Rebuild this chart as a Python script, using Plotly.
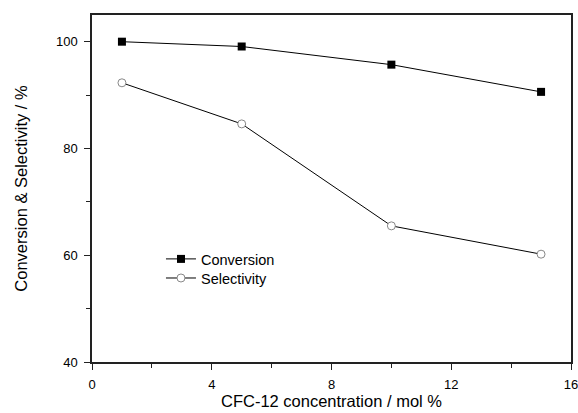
import plotly.graph_objects as go

x_vals = [1, 5, 10, 15]
conversion = [100.0, 99.1, 95.7, 90.6]
selectivity = [92.3, 84.6, 65.5, 60.2]
x_ticks = [0, 4, 8, 12, 16]
y_ticks = [40, 60, 80, 100]

font_family = "Liberation Sans, Arial, sans-serif"

fig = go.Figure()
fig.add_trace(go.Scatter(
    x=x_vals, y=conversion, mode="lines+markers", name="Conversion",
    line=dict(color="black", width=1),
    marker=dict(symbol="square", size=8, color="black"),
    legend="legend",
))
fig.add_trace(go.Scatter(
    x=x_vals, y=selectivity, mode="lines+markers", name="Selectivity",
    line=dict(color="black", width=1),
    marker=dict(symbol="circle", size=8, color="white", line=dict(color="#888888", width=1)),
    legend="legend2",
))

axis_common = dict(
    showgrid=False, zeroline=False, showline=True, linecolor="#222222", linewidth=1.5,
    mirror=True, ticks="outside", ticklen=6, tickwidth=1, tickcolor="#222222",
    tickfont=dict(family=font_family, size=13, color="black"),
    automargin=False, ticklabeloverflow="allow",
)
fig.update_xaxes(
    range=[0, 16], tickvals=x_ticks, ticktext=[str(v) for v in x_ticks],
    minor=dict(tickvals=[2, 6, 10, 14], ticks="outside", ticklen=4, tickcolor="#222222"),
    ticklabelstandoff=4,
    title=dict(text="CFC-12 concentration / mol %", font=dict(family=font_family, size=16.5, color="black"), standoff=4),
    **axis_common,
)
fig.update_yaxes(
    range=[40, 105], tickvals=y_ticks, ticktext=[str(v) for v in y_ticks],
    minor=dict(tickvals=[50, 70, 90], ticks="outside", ticklen=4, tickcolor="#222222"),
    ticklabelstandoff=4,
    title=dict(text="Conversion & Selectivity / %", font=dict(family=font_family, size=16.5, color="black"), standoff=24),
    **axis_common,
)
leg_common = dict(xanchor="left", yanchor="top", bgcolor="rgba(0,0,0,0)",
                  font=dict(family=font_family, size=14.5, color="black"), itemwidth=30)
fig.update_layout(
    width=578, height=413,
    margin=dict(l=92, r=7, t=15, b=51, autoexpand=False),
    paper_bgcolor="white", plot_bgcolor="white",
    font=dict(family=font_family, size=13, color="black"),
    legend=dict(x=0.144, y=0.343, **leg_common),
    legend2=dict(x=0.144, y=0.288, **leg_common),
    showlegend=True,
)
fig.write_html("out.html")
